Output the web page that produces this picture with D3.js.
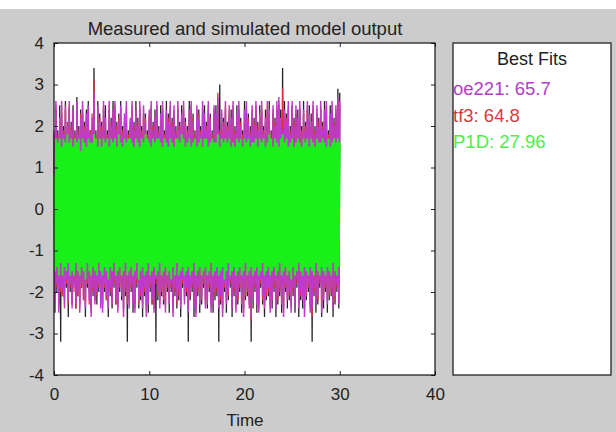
<!DOCTYPE html>
<html>
<head>
<meta charset="utf-8">
<script src="https://cdn.jsdelivr.net/npm/d3@7"></script>
<style>
  html, body { margin: 0; padding: 0; background: #cccccc; }
  svg { display: block; font-family: "Liberation Sans", Arial, sans-serif; }
</style>
</head>
<body>
<div id="container"></div>
<script>
// sample time of the records
const step = 0.1;

// measured output (black)
const measured = [
  1.6,-2.5,2.4,-2.0,1.9,-2.3,2.5,-3.2,2.3,-2.1,
  2.0,-2.2,2.6,-1.9,1.8,-2.6,2.4,-2.0,2.1,-2.3,
  2.5,-1.8,1.9,-2.4,2.7,-2.1,2.0,-2.3,2.4,-1.9,
  2.3,-2.2,2.1,-2.6,2.4,-1.9,2.6,-2.0,1.9,-2.4,
  2.0,-2.1,3.4,-2.2,1.9,-2.3,2.6,-2.0,2.3,-2.2,
  2.1,-2.3,2.4,-2.0,2.5,-2.2,1.9,-2.6,2.4,-2.1,
  2.2,-2.4,2.6,-1.9,2.4,-2.3,2.1,-2.3,2.3,-2.0,
  2.6,-2.2,2.0,-2.4,2.1,-2.1,2.4,-3.2,1.9,-2.2,
  2.0,-2.0,2.4,-2.5,2.1,-2.3,2.6,-1.9,2.2,-2.4,
  2.4,-2.2,2.0,-2.6,2.3,-2.1,2.3,-2.4,1.9,-2.5,
  2.2,-2.0,2.4,-2.3,2.1,-2.3,2.4,-3.2,2.4,-2.2,
  2.0,-2.2,2.5,-2.1,2.4,-2.3,1.9,-2.3,2.6,-2.0,
  2.3,-2.5,2.4,-2.0,2.2,-2.4,2.3,-2.1,2.0,-2.4,
  2.4,-2.2,2.1,-2.6,2.5,-1.9,2.4,-2.1,2.2,-2.1,
  2.0,-3.2,2.6,-2.2,2.4,-2.0,2.3,-2.6,1.9,-2.4,
  2.3,-2.1,2.4,-2.5,2.0,-2.3,2.4,-1.9,2.5,-2.2,
  2.1,-2.4,2.4,-2.0,2.3,-2.3,1.9,-2.5,2.3,-2.2,
  2.5,-2.1,2.5,-3.2,3.0,-2.3,2.2,-2.4,2.2,-2.0,
  2.4,-2.5,2.1,-2.2,2.3,-1.9,2.4,-2.6,2.4,-2.1,
  2.0,-2.3,2.5,-2.3,2.4,-2.0,2.2,-2.5,1.9,-2.4,
  2.6,-2.2,2.4,-2.1,2.3,-2.2,2.0,-3.2,2.3,-2.4,
  2.2,-2.0,2.4,-2.5,2.1,-2.3,2.5,-1.9,2.4,-2.3,
  2.0,-2.6,2.4,-2.2,2.4,-2.1,2.6,-2.3,1.9,-2.4,
  2.3,-2.0,2.2,-2.6,2.4,-2.3,2.5,-2.1,2.4,-2.5,
  3.4,-2.4,2.6,-2.0,2.3,-2.4,2.4,-2.2,2.0,-2.3,
  2.4,-2.1,2.2,-2.5,2.3,-1.9,2.4,-2.6,2.4,-2.2,
  2.0,-2.4,2.6,-2.4,2.1,-2.2,2.4,-2.0,2.5,-2.3,
  2.3,-3.2,2.4,-2.1,2.0,-2.5,2.3,-2.3,2.2,-1.9,
  2.4,-2.6,2.1,-2.4,2.6,-2.0,2.4,-2.5,1.9,-2.2,
  2.5,-2.1,2.4,-2.6,2.2,-2.3,2.3,-2.0,2.9,-2.4,
  2.8
];

// oe221 model output (magenta)
const oe221 = [
  1.9,-2.3,2.6,-1.8,1.7,-2.5,2.2,-1.9,2.6,-2.0,
  1.8,-2.4,2.5,-1.7,2.0,-2.2,2.6,-1.8,1.9,-2.4,
  2.4,-1.9,1.7,-2.3,2.6,-2.0,1.8,-2.5,2.2,-1.8,
  2.6,-2.1,1.9,-2.4,2.3,-1.7,2.5,-2.2,1.8,-2.6,
  2.2,-1.9,2.8,-2.3,1.7,-2.0,2.5,-1.8,2.1,-2.4,
  1.9,-2.5,2.6,-1.8,2.2,-2.1,1.7,-2.4,2.6,-1.9,
  2.0,-2.3,2.4,-1.7,2.6,-2.2,1.9,-2.5,2.1,-1.8,
  2.5,-2.0,1.8,-2.6,2.3,-1.9,2.6,-2.1,1.7,-2.4,
  2.2,-1.8,2.6,-2.3,1.9,-2.5,2.4,-1.7,2.0,-2.2,
  2.6,-2.0,1.8,-2.4,2.5,-1.9,2.1,-2.6,1.7,-2.3,
  2.4,-1.8,2.6,-2.2,1.9,-2.5,2.2,-1.7,2.6,-2.0,
  1.8,-2.4,2.3,-1.9,2.6,-2.1,1.7,-2.5,2.4,-1.8,
  2.1,-2.3,2.6,-1.8,2.0,-2.6,2.5,-1.9,1.8,-2.2,
  2.6,-2.0,1.9,-2.4,2.3,-1.7,2.6,-2.3,2.0,-1.9,
  1.8,-2.5,2.4,-2.0,2.6,-1.8,2.1,-2.4,1.7,-2.6,
  2.5,-1.9,2.2,-2.3,1.8,-2.1,2.6,-1.7,2.3,-2.4,
  1.9,-2.2,2.6,-1.8,2.1,-2.5,1.7,-2.3,2.5,-2.0,
  2.3,-1.9,2.7,-2.4,1.8,-2.1,2.4,-2.6,2.0,-1.8,
  2.6,-2.3,1.9,-2.0,2.5,-1.7,2.2,-2.4,2.6,-1.9,
  1.8,-2.5,2.3,-2.1,2.6,-1.8,2.0,-2.3,1.7,-2.6,
  2.4,-2.0,2.6,-1.9,2.1,-2.4,1.8,-2.6,2.5,-2.2,
  2.0,-1.8,2.6,-2.3,1.9,-2.5,2.3,-1.7,2.6,-2.1,
  1.8,-2.4,2.2,-2.0,2.6,-1.9,2.4,-2.5,1.7,-2.2,
  2.5,-1.8,2.0,-2.4,2.6,-2.1,2.7,-1.9,2.2,-2.3,
  1.9,-2.6,2.4,-1.8,2.1,-2.2,2.6,-2.0,1.8,-2.5,
  2.6,-1.9,2.0,-2.3,2.5,-1.7,2.2,-2.4,2.6,-2.0,
  1.8,-2.2,2.4,-2.6,1.9,-2.0,2.6,-1.8,2.3,-2.5,
  2.1,-2.4,2.6,-1.9,1.8,-2.3,2.5,-2.1,2.0,-1.7,
  2.6,-2.5,1.9,-2.2,2.4,-1.8,2.6,-2.3,1.7,-2.0,
  2.3,-1.9,2.6,-2.4,2.0,-2.1,2.5,-1.8,2.7,-2.3,
  2.6
];

// tf3 model output (red)
const tf3 = [
  1.8,-2.2,2.5,-1.9,1.8,-2.4,2.1,-2.0,2.5,-2.1,
  1.9,-2.3,2.4,-1.8,2.1,-2.3,2.5,-1.9,2.0,-2.3,
  2.3,-2.0,1.8,-2.4,2.5,-2.1,1.9,-2.4,2.3,-1.9,
  2.5,-2.2,2.0,-2.3,2.2,-1.8,2.4,-2.3,1.9,-2.5,
  2.3,-2.0,3.1,-2.2,1.8,-2.1,2.4,-1.9,2.2,-2.3,
  2.0,-2.4,2.5,-1.9,2.1,-2.2,1.8,-2.3,2.5,-2.0,
  2.1,-2.2,2.3,-1.8,2.5,-2.3,2.0,-2.4,2.2,-1.9,
  2.4,-2.1,1.9,-2.5,2.2,-2.0,2.5,-2.3,1.8,-2.3,
  2.1,-1.9,2.5,-2.2,2.0,-2.4,2.3,-1.8,2.1,-2.3,
  2.5,-2.1,1.9,-2.3,2.4,-2.0,2.2,-2.5,1.8,-2.2,
  2.3,-1.9,2.5,-2.3,2.0,-2.4,2.1,-1.8,2.5,-2.1,
  1.9,-2.3,2.2,-2.0,2.5,-2.2,1.8,-2.4,2.3,-1.9,
  2.2,-2.2,2.5,-1.9,2.1,-2.5,2.4,-2.0,1.9,-2.3,
  2.5,-2.1,2.0,-2.3,2.2,-1.8,2.5,-2.2,2.1,-2.0,
  1.9,-2.4,2.3,-2.1,2.5,-1.9,2.2,-2.3,1.8,-2.5,
  2.4,-2.0,2.3,-2.2,1.9,-2.2,2.5,-1.8,2.2,-2.3,
  2.0,-2.3,2.5,-1.9,2.2,-2.4,1.8,-2.2,2.4,-2.1,
  2.2,-2.0,2.8,-2.3,1.9,-2.2,2.3,-2.5,2.1,-1.9,
  2.5,-2.2,2.0,-2.1,2.4,-1.8,2.1,-2.3,2.5,-2.0,
  1.9,-2.4,2.2,-2.2,2.5,-1.9,2.1,-2.2,1.8,-2.5,
  2.3,-2.1,2.5,-2.0,2.2,-2.3,1.9,-2.7,2.4,-2.1,
  2.1,-1.9,2.5,-2.2,2.0,-2.4,2.2,-1.8,2.5,-2.2,
  1.9,-2.3,2.1,-2.1,2.5,-2.0,2.3,-2.4,1.8,-2.1,
  2.4,-1.9,2.1,-2.3,2.5,-2.2,2.6,-2.0,2.1,-2.2,
  2.9,-2.5,2.3,-1.9,2.2,-2.1,2.5,-2.1,1.9,-2.4,
  2.5,-2.0,2.1,-2.2,2.4,-1.8,2.1,-2.3,2.5,-2.1,
  1.9,-2.1,2.3,-2.5,2.0,-2.1,2.5,-1.9,2.2,-2.4,
  2.0,-2.6,2.5,-2.0,1.9,-2.2,2.4,-2.2,2.1,-1.8,
  2.5,-2.4,2.0,-2.1,2.3,-1.9,2.5,-2.2,1.8,-2.1,
  2.2,-2.0,2.5,-2.3,2.1,-2.2,2.4,-1.9,2.6,-2.2,
  2.5
];

// P1D model output (green)
const p1d = [
  0.8,-1.5,1.7,-1.4,1.6,-1.6,1.7,-1.3,1.5,-1.6,
  1.7,-1.4,1.6,-1.5,1.8,-1.3,1.6,-1.6,1.7,-1.5,
  1.5,-1.6,1.7,-1.3,1.6,-1.5,1.7,-1.6,1.4,-1.4,
  1.7,-1.5,1.6,-1.7,1.5,-1.3,1.7,-1.5,1.6,-1.6,
  1.6,-1.4,1.8,-1.5,1.7,-1.6,1.5,-1.3,1.7,-1.5,
  1.5,-1.6,1.7,-1.4,1.6,-1.5,1.7,-1.7,1.5,-1.4,
  1.7,-1.5,1.6,-1.3,1.7,-1.6,1.5,-1.5,1.8,-1.4,
  1.6,-1.6,1.5,-1.5,1.7,-1.3,1.6,-1.6,1.7,-1.5,
  1.7,-1.4,1.6,-1.6,1.5,-1.5,1.7,-1.3,1.6,-1.7,
  1.5,-1.5,1.7,-1.4,1.6,-1.6,1.8,-1.5,1.7,-1.3,
  1.6,-1.6,1.5,-1.5,1.7,-1.4,1.6,-1.6,1.7,-1.5,
  1.7,-1.3,1.6,-1.6,1.5,-1.5,1.7,-1.4,1.6,-1.6,
  1.5,-1.5,1.7,-1.7,1.6,-1.4,1.5,-1.6,1.7,-1.3,
  1.7,-1.6,1.6,-1.5,1.8,-1.4,1.7,-1.6,1.5,-1.5,
  1.6,-1.4,1.7,-1.6,1.5,-1.5,1.6,-1.3,1.7,-1.6,
  1.5,-1.5,1.6,-1.4,1.7,-1.6,1.5,-1.5,1.7,-1.4,
  1.7,-1.6,1.5,-1.5,1.6,-1.3,1.7,-1.6,1.6,-1.5,
  1.6,-1.4,1.8,-1.6,1.5,-1.5,1.7,-1.4,1.6,-1.7,
  1.7,-1.5,1.6,-1.3,1.7,-1.6,1.5,-1.5,1.6,-1.4,
  1.5,-1.6,1.7,-1.5,1.6,-1.4,1.7,-1.6,1.5,-1.5,
  1.7,-1.3,1.6,-1.6,1.7,-1.5,1.5,-1.4,1.6,-1.6,
  1.6,-1.5,1.7,-1.4,1.5,-1.6,1.7,-1.5,1.6,-1.3,
  1.7,-1.6,1.5,-1.5,1.6,-1.4,1.8,-1.6,1.7,-1.5,
  1.5,-1.4,1.7,-1.6,1.6,-1.5,1.5,-1.3,1.7,-1.6,
  1.8,-1.5,1.6,-1.4,1.7,-1.6,1.5,-1.5,1.6,-1.7,
  1.7,-1.4,1.5,-1.6,1.6,-1.5,1.7,-1.3,1.6,-1.5,
  1.5,-1.6,1.7,-1.4,1.6,-1.5,1.7,-1.6,1.5,-1.4,
  1.7,-1.5,1.6,-1.6,1.5,-1.3,1.7,-1.5,1.6,-1.6,
  1.6,-1.4,1.7,-1.5,1.6,-1.6,1.5,-1.4,1.7,-1.5,
  1.5,-1.6,1.6,-1.3,1.7,-1.5,1.6,-1.6,1.7,-1.4,
  1.6
];

const xTicks = [0, 10, 20, 30, 40];
const yTicks = [-4, -3, -2, -1, 0, 1, 2, 3, 4];

const fitNames = ["oe221", "tf3", "P1D"];
const fitValues = ["65.7", "64.8", "27.96"];
const fitColors = ["#b23cc4", "#d83a3a", "#4dee4d"];

const width = 616, height = 432;
const plot = {left: 54, right: 435, top: 43, bottom: 375};
const legendBox = {left: 453, right: 611, top: 43, bottom: 375};

const svg = d3.select("#container")
  .append("svg")
  .attr("width", width)
  .attr("height", height)
  .attr("viewBox", [0, 0, width, height]);

svg.append("rect").attr("width", width).attr("height", height).attr("fill", "#cccccc");
svg.append("rect").attr("width", width).attr("height", 9).attr("fill", "#ffffff");

const x = d3.scaleLinear().domain([0, 40]).range([plot.left, plot.right]);
const y = d3.scaleLinear().domain([-4, 4]).range([plot.bottom, plot.top]);

svg.append("rect")
  .attr("x", plot.left).attr("y", plot.top)
  .attr("width", plot.right - plot.left).attr("height", plot.bottom - plot.top)
  .attr("fill", "#fff");

const line = d3.line()
  .x((d, i) => x(i * step))
  .y(d => y(d));

// drawing order: measured, tf3, oe221, P1D on top
const series = [
  {data: measured, color: "#262626", w: 1.3},
  {data: tf3, color: "#e0303a", w: 1.3},
  {data: oe221, color: "#c03acc", w: 1.5},
  {data: p1d, color: "#19f019", w: 1.9}
];

svg.append("g")
  .selectAll("path")
  .data(series)
  .enter()
  .append("path")
  .attr("d", d => line(d.data))
  .attr("fill", "none")
  .attr("stroke", d => d.color)
  .attr("stroke-width", d => d.w)
  .attr("stroke-linejoin", "bevel");

// axes, ticks pointing inward
const fmt = d => String(d);
svg.append("g")
  .attr("transform", `translate(0,${plot.bottom})`)
  .call(d3.axisBottom(x).tickValues(xTicks).tickSizeInner(-4).tickSizeOuter(0).tickPadding(13).tickFormat(fmt))
  .call(a => a.select(".domain").remove());
svg.append("g")
  .attr("transform", `translate(0,${plot.top})`)
  .call(d3.axisTop(x).tickValues(xTicks).tickSizeInner(-4).tickSizeOuter(0).tickFormat(""))
  .call(a => a.select(".domain").remove());
svg.append("g")
  .attr("transform", `translate(${plot.left},0)`)
  .call(d3.axisLeft(y).tickValues(yTicks).tickSizeInner(-4).tickSizeOuter(0).tickPadding(10).tickFormat(fmt))
  .call(a => a.select(".domain").remove());
svg.append("g")
  .attr("transform", `translate(${plot.right},0)`)
  .call(d3.axisRight(y).tickValues(yTicks).tickSizeInner(-4).tickSizeOuter(0).tickFormat(""))
  .call(a => a.select(".domain").remove());

svg.selectAll(".tick text")
  .attr("font-size", 17)
  .attr("fill", "#222")
  .attr("font-family", "Liberation Sans, Arial, sans-serif");
svg.selectAll(".tick line").attr("stroke", "#222");

svg.append("rect")
  .attr("x", plot.left).attr("y", plot.top)
  .attr("width", plot.right - plot.left).attr("height", plot.bottom - plot.top)
  .attr("fill", "none").attr("stroke", "#111").attr("stroke-width", 1.2);

svg.append("text")
  .attr("x", 245).attr("y", 35)
  .attr("text-anchor", "middle")
  .attr("font-size", 18.5)
  .attr("fill", "#222")
  .text("Measured and simulated model output");

svg.append("text")
  .attr("x", 245).attr("y", 426)
  .attr("text-anchor", "middle")
  .attr("font-size", 17)
  .attr("fill", "#222")
  .text("Time");

// legend panel with fit values
svg.append("rect")
  .attr("x", legendBox.left).attr("y", legendBox.top)
  .attr("width", legendBox.right - legendBox.left).attr("height", legendBox.bottom - legendBox.top)
  .attr("fill", "#fff").attr("stroke", "#111").attr("stroke-width", 1.2);

svg.append("text")
  .attr("x", (legendBox.left + legendBox.right) / 2).attr("y", 65)
  .attr("text-anchor", "middle")
  .attr("font-size", 18)
  .attr("fill", "#222")
  .text("Best Fits");

svg.selectAll("text.fit")
  .data(fitNames)
  .enter()
  .append("text")
  .attr("class", "fit")
  .attr("x", legendBox.left)
  .attr("y", (d, i) => 95 + i * 26.5)
  .attr("font-size", 18.5)
  .attr("fill", (d, i) => fitColors[i])
  .text((d, i) => `${d}: ${fitValues[i]}`);
</script>
</body>
</html>
